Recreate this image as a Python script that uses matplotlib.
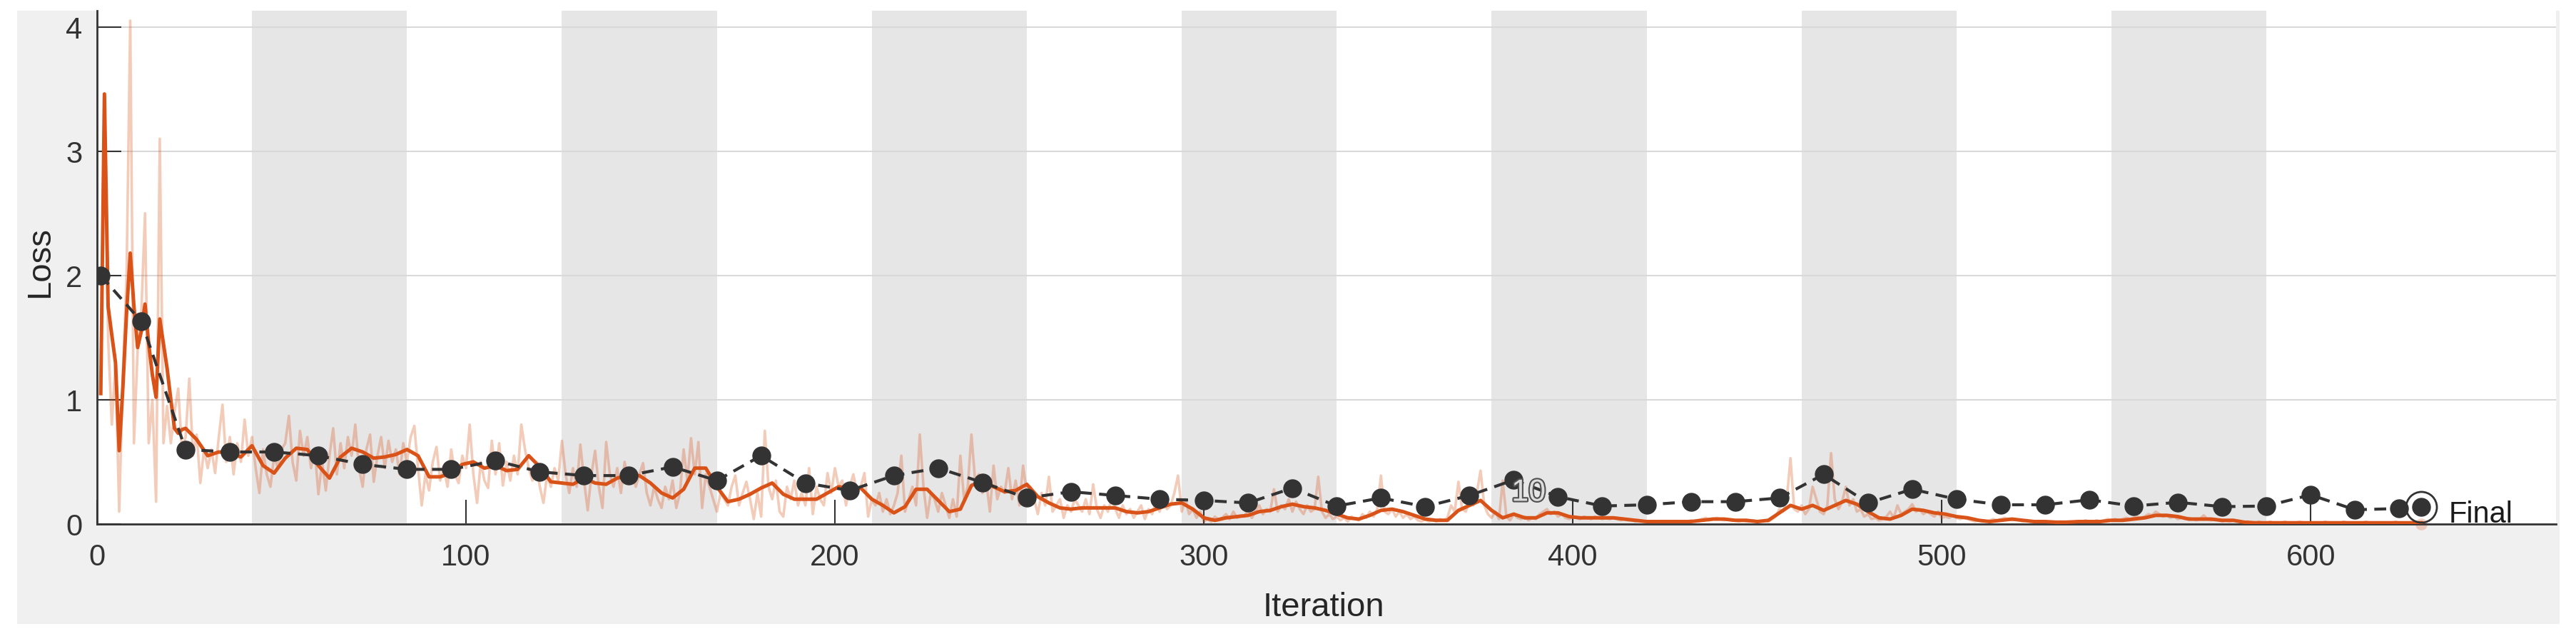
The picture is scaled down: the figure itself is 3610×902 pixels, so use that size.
import numpy as np
import matplotlib
matplotlib.use('Agg')
import matplotlib.pyplot as plt
import matplotlib.patheffects as pe
from matplotlib.patches import Rectangle

plt.rcParams['font.family'] = ['Liberation Sans', 'DejaVu Sans']

# training run: 15 epochs of 42 iterations
epoch_len = 42
n_epochs = 15

# raw training loss, one value per iteration 1..630
raw_loss = [
    1.05, 3.46, 1.50, 0.80, 1.30, 0.10, 1.20, 2.00, 4.05, 0.65,   # 1
    1.40, 1.70, 2.50, 0.65, 1.00, 0.18, 3.10, 0.65, 0.95, 0.65,   # 11
    0.90, 1.09, 0.60, 0.70, 1.17, 0.55, 0.72, 0.33, 0.60, 0.45,   # 21
    0.60, 0.41, 0.70, 0.96, 0.50, 0.70, 0.40, 0.65, 0.50, 0.84,   # 31
    0.55, 0.70, 0.45, 0.25, 0.60, 0.40, 0.30, 0.55, 0.45, 0.60,   # 41
    0.65, 0.87, 0.50, 0.35, 0.75, 0.55, 0.70, 0.45, 0.60, 0.24,   # 51
    0.50, 0.27, 0.55, 0.77, 0.40, 0.65, 0.45, 0.70, 0.55, 0.80,   # 61
    0.45, 0.30, 0.60, 0.72, 0.34, 0.55, 0.70, 0.45, 0.67, 0.50,   # 71
    0.60, 0.40, 0.65, 0.50, 0.70, 0.79, 0.45, 0.15, 0.40, 0.27,   # 81
    0.50, 0.62, 0.35, 0.45, 0.30, 0.60, 0.40, 0.33, 0.55, 0.45,   # 91
    0.80, 0.40, 0.17, 0.50, 0.35, 0.29, 0.67, 0.40, 0.65, 0.31,   # 101
    0.50, 0.35, 0.55, 0.40, 0.80, 0.60, 0.45, 0.35, 0.50, 0.30,   # 111
    0.17, 0.40, 0.30, 0.45, 0.35, 0.67, 0.40, 0.25, 0.45, 0.30,   # 121
    0.64, 0.35, 0.11, 0.40, 0.59, 0.30, 0.13, 0.66, 0.40, 0.30,   # 131
    0.45, 0.25, 0.50, 0.35, 0.45, 0.30, 0.40, 0.49, 0.25, 0.15,   # 141
    0.30, 0.20, 0.13, 0.30, 0.20, 0.35, 0.13, 0.25, 0.60, 0.35,   # 151
    0.69, 0.40, 0.66, 0.13, 0.40, 0.30, 0.20, 0.10, 0.25, 0.20,   # 161
    0.15, 0.30, 0.39, 0.15, 0.25, 0.34, 0.20, 0.04, 0.25, 0.06,   # 171
    0.75, 0.30, 0.20, 0.35, 0.10, 0.06, 0.30, 0.20, 0.35, 0.15,   # 181
    0.25, 0.15, 0.45, 0.08, 0.30, 0.20, 0.15, 0.41, 0.25, 0.45,   # 191
    0.30, 0.35, 0.15, 0.30, 0.40, 0.25, 0.30, 0.41, 0.06, 0.20,   # 201
    0.15, 0.25, 0.10, 0.20, 0.08, 0.15, 0.25, 0.55, 0.10, 0.20,   # 211
    0.30, 0.15, 0.72, 0.30, 0.05, 0.25, 0.20, 0.10, 0.25, 0.15,   # 221
    0.05, 0.20, 0.06, 0.55, 0.20, 0.30, 0.72, 0.35, 0.40, 0.25,   # 231
    0.35, 0.10, 0.47, 0.20, 0.30, 0.25, 0.45, 0.20, 0.35, 0.15,   # 241
    0.47, 0.25, 0.30, 0.20, 0.08, 0.25, 0.15, 0.38, 0.10, 0.15,   # 251
    0.20, 0.05, 0.15, 0.10, 0.20, 0.15, 0.10, 0.20, 0.08, 0.32,   # 261
    0.12, 0.05, 0.15, 0.10, 0.20, 0.12, 0.05, 0.15, 0.08, 0.12,   # 271
    0.05, 0.10, 0.15, 0.04, 0.12, 0.08, 0.18, 0.10, 0.20, 0.12,   # 281
    0.15, 0.25, 0.39, 0.10, 0.20, 0.08, 0.12, 0.05, 0.10, 0.02,   # 291
    0.04, 0.02, 0.06, 0.03, 0.05, 0.08, 0.04, 0.10, 0.05, 0.07,   # 301
    0.06, 0.12, 0.05, 0.10, 0.15, 0.08, 0.12, 0.10, 0.28, 0.10,   # 311
    0.15, 0.12, 0.20, 0.10, 0.18, 0.12, 0.08, 0.15, 0.10, 0.12,   # 321
    0.38, 0.10, 0.05, 0.08, 0.04, 0.06, 0.03, 0.05, 0.02, 0.06,   # 331
    0.04, 0.03, 0.08, 0.05, 0.10, 0.06, 0.12, 0.39, 0.10, 0.08,   # 341
    0.12, 0.06, 0.10, 0.05, 0.08, 0.04, 0.06, 0.03, 0.02, 0.04,   # 351
    0.02, 0.03, 0.02, 0.04, 0.03, 0.05, 0.15, 0.10, 0.34, 0.12,   # 361
    0.10, 0.20, 0.15, 0.25, 0.43, 0.15, 0.08, 0.05, 0.10, 0.04,   # 371
    0.35, 0.06, 0.03, 0.08, 0.05, 0.04, 0.06, 0.03, 0.05, 0.04,   # 381
    0.08, 0.10, 0.12, 0.08, 0.10, 0.06, 0.08, 0.05, 0.04, 0.06,   # 391
    0.05, 0.04, 0.06, 0.05, 0.04, 0.06, 0.05, 0.04, 0.05, 0.04,   # 401
    0.05, 0.04, 0.03, 0.04, 0.03, 0.03, 0.02, 0.03, 0.02, 0.02,   # 411
    0.02, 0.01, 0.02, 0.02, 0.01, 0.02, 0.02, 0.01, 0.02, 0.02,   # 421
    0.02, 0.03, 0.02, 0.03, 0.04, 0.05, 0.03, 0.04, 0.05, 0.04,   # 431
    0.03, 0.04, 0.03, 0.03, 0.02, 0.03, 0.02, 0.02, 0.03, 0.02,   # 441
    0.02, 0.03, 0.02, 0.04, 0.06, 0.12, 0.10, 0.20, 0.53, 0.12,   # 451
    0.10, 0.15, 0.08, 0.12, 0.30, 0.20, 0.10, 0.08, 0.15, 0.57,   # 461
    0.20, 0.12, 0.18, 0.30, 0.15, 0.20, 0.10, 0.12, 0.06, 0.08,   # 471
    0.04, 0.05, 0.03, 0.04, 0.06, 0.10, 0.05, 0.15, 0.08, 0.10,   # 481
    0.12, 0.16, 0.10, 0.12, 0.08, 0.10, 0.08, 0.06, 0.10, 0.05,   # 491
    0.06, 0.05, 0.07, 0.05, 0.04, 0.05, 0.04, 0.03, 0.02, 0.03,   # 501
    0.02, 0.02, 0.03, 0.04, 0.03, 0.04, 0.05, 0.04, 0.03, 0.04,   # 511
    0.03, 0.02, 0.03, 0.02, 0.02, 0.01, 0.02, 0.02, 0.01, 0.02,   # 521
    0.01, 0.02, 0.01, 0.02, 0.02, 0.01, 0.02, 0.02, 0.03, 0.02,   # 531
    0.02, 0.03, 0.02, 0.03, 0.04, 0.03, 0.04, 0.03, 0.04, 0.05,   # 541
    0.04, 0.05, 0.06, 0.05, 0.06, 0.08, 0.07, 0.10, 0.08, 0.06,   # 551
    0.07, 0.05, 0.06, 0.04, 0.05, 0.04, 0.05, 0.04, 0.03, 0.04,   # 561
    0.07, 0.04, 0.03, 0.04, 0.03, 0.02, 0.03, 0.02, 0.03, 0.02,   # 571
    0.02, 0.01, 0.02, 0.01, 0.01, 0.02, 0.01, 0.01, 0.02, 0.01,   # 581
    0.01, 0.01, 0.02, 0.01, 0.01, 0.01, 0.02, 0.01, 0.01, 0.01,   # 591
    0.01, 0.01, 0.01, 0.02, 0.01, 0.01, 0.01, 0.01, 0.02, 0.01,   # 601
    0.01, 0.01, 0.01, 0.01, 0.02, 0.01, 0.01, 0.01, 0.01, 0.01,   # 611
    0.01, 0.01, 0.02, 0.01, 0.01, 0.01, 0.01, 0.01, 0.01, 0.01,   # 621
]

# smoothed training loss: iterations 1..24, then every 3rd from 27 to 630
smooth_early = [
    1.05, 3.46, 1.75, 1.52, 1.30, 0.59, 1.10, 1.70, 2.18, 1.75,
    1.42, 1.55, 1.77, 1.45, 1.20, 1.02, 1.65, 1.45, 1.25, 1.00,
    0.77, 0.73, 0.76, 0.77,
]
smooth_late = [
    0.68, 0.55, 0.58, 0.57, 0.54, 0.63, 0.47, 0.41, 0.53, 0.61,   # 27
    0.60, 0.47, 0.37, 0.54, 0.61, 0.58, 0.53, 0.54, 0.56, 0.60,   # 57
    0.55, 0.38, 0.38, 0.41, 0.48, 0.50, 0.45, 0.47, 0.43, 0.44,   # 87
    0.55, 0.46, 0.34, 0.33, 0.32, 0.37, 0.33, 0.32, 0.37, 0.39,   # 117
    0.39, 0.33, 0.25, 0.21, 0.28, 0.45, 0.45, 0.30, 0.18, 0.20,   # 147
    0.24, 0.29, 0.33, 0.24, 0.20, 0.20, 0.20, 0.25, 0.30, 0.29,   # 177
    0.29, 0.20, 0.15, 0.09, 0.14, 0.28, 0.28, 0.19, 0.10, 0.12,   # 207
    0.31, 0.35, 0.30, 0.26, 0.27, 0.32, 0.22, 0.17, 0.13, 0.12,   # 237
    0.13, 0.13, 0.13, 0.13, 0.10, 0.09, 0.10, 0.13, 0.16, 0.17,   # 267
    0.12, 0.05, 0.03, 0.05, 0.06, 0.07, 0.10, 0.11, 0.14, 0.16,   # 297
    0.14, 0.13, 0.11, 0.08, 0.05, 0.04, 0.07, 0.11, 0.12, 0.10,   # 327
    0.07, 0.04, 0.03, 0.03, 0.11, 0.15, 0.19, 0.11, 0.05, 0.08,   # 357
    0.05, 0.05, 0.09, 0.09, 0.06, 0.05, 0.05, 0.05, 0.05, 0.04,   # 387
    0.03, 0.02, 0.02, 0.02, 0.02, 0.02, 0.03, 0.04, 0.04, 0.03,   # 417
    0.03, 0.02, 0.03, 0.09, 0.15, 0.12, 0.15, 0.11, 0.15, 0.19,   # 447
    0.16, 0.10, 0.05, 0.04, 0.07, 0.12, 0.11, 0.09, 0.08, 0.06,   # 477
    0.05, 0.03, 0.02, 0.03, 0.04, 0.03, 0.02, 0.02, 0.015, 0.015, # 507
    0.02, 0.02, 0.02, 0.03, 0.03, 0.04, 0.05, 0.07, 0.07, 0.06,   # 537
    0.04, 0.04, 0.04, 0.03, 0.03, 0.015, 0.01, 0.01, 0.01, 0.01,  # 567
    0.01, 0.01, 0.01, 0.01, 0.01, 0.01, 0.01, 0.01, 0.01, 0.01,   # 597
    0.01, 0.01,                                                   # 627
]

# validation loss at iteration 1 and every 12 iterations
val_iter = [1] + list(range(12, 625, 12))
val_loss = [
    2.00, 1.63, 0.60, 0.58, 0.58, 0.55, 0.48, 0.44, 0.44, 0.51,
    0.42, 0.39, 0.39, 0.46, 0.35, 0.55, 0.33, 0.27, 0.39, 0.45,
    0.335, 0.21, 0.26, 0.23, 0.20, 0.19, 0.17, 0.29, 0.145, 0.21,
    0.14, 0.23, 0.355, 0.22, 0.145, 0.155, 0.18, 0.18, 0.21, 0.40,
    0.17, 0.28, 0.20, 0.155, 0.155, 0.195, 0.145, 0.175, 0.14, 0.145,
    0.235, 0.115, 0.125,
]
final_iter = 630
final_loss = 0.135

W, H = 3610, 903
fig = plt.figure(figsize=(W / 100, H / 100), dpi=100, facecolor='white')
fig.patches.append(Rectangle((24 / W, 1 - 875 / H), (3587 - 24) / W, (875 - 16) / H,
                             transform=fig.transFigure, facecolor='#f0f0f0',
                             edgecolor='none', zorder=-10))
ax = fig.add_axes([136 / W, 1 - 735 / H, (3582 - 136) / W, (735 - 16) / H])
ax.set_facecolor('white')

# shade every other epoch
for k in range(1, n_epochs, 2):
    ax.axvspan(k * epoch_len, (k + 1) * epoch_len, color='#e6e6e6', lw=0, zorder=0.2)

orange = '#D95319'
it_raw = np.arange(1, len(raw_loss) + 1)
ax.plot(it_raw, raw_loss, color=orange, alpha=0.3, lw=2.6, zorder=2)

it_smooth = np.concatenate([np.arange(1, 25), np.arange(27, 631, 3)])
ax.plot(it_smooth, smooth_early + smooth_late, color=orange, lw=3.6, zorder=3)

ax.plot(val_iter + [final_iter], val_loss + [final_loss], ls='--', dashes=(4, 2.5),
        color='#333333', lw=3.0, marker='o', ms=18, mfc='#333333', mec='#333333', zorder=4)
ax.plot(final_iter, final_loss, marker='o', ms=31, mfc='none', mec='#333333', mew=2, zorder=5)
ax.plot(final_iter, 0.0, marker='o', ms=12, color=orange, alpha=0.25, mew=0,
        clip_on=False, zorder=1.5)

ax.text(637.5, 0.02, 'Final', fontsize=30, color='#1a1a1a', ha='left', va='baseline', zorder=6)
ax.text(388, 0.25, '10', fontsize=31, color='#dcdcdc', ha='center', va='center', zorder=6,
        path_effects=[pe.withStroke(linewidth=3, foreground='#505050')])

ax.set_xlim(0, 666.5)
ax.set_ylim(0, 4.13)
ax.set_xticks(range(0, 601, 100))
ax.set_yticks(range(0, 5))
ax.tick_params(direction='in', length=24.5, width=1.5, colors='#333333', labelsize=30,
               top=False, right=False)
ax.tick_params(axis='x', pad=19)
ax.tick_params(axis='y', pad=15)
for s in ['top', 'right']:
    ax.spines[s].set_visible(False)
for s in ['left', 'bottom']:
    ax.spines[s].set_color('#333333')
    ax.spines[s].set_linewidth(2)
ax.set_axisbelow(True)
ax.yaxis.grid(True, color='#d9d9d9', lw=1.5)
ax.xaxis.grid(False)

fig.text(78 / W, 1 - 367 / H, 'Loss', rotation=90, fontsize=34, color='#262626',
         ha='right', va='center')
fig.text(1855 / W, 1 - 863 / H, 'Iteration', fontsize=34, color='#262626',
         ha='center', va='baseline')

fig.savefig('out.png', dpi=100, facecolor='white')
